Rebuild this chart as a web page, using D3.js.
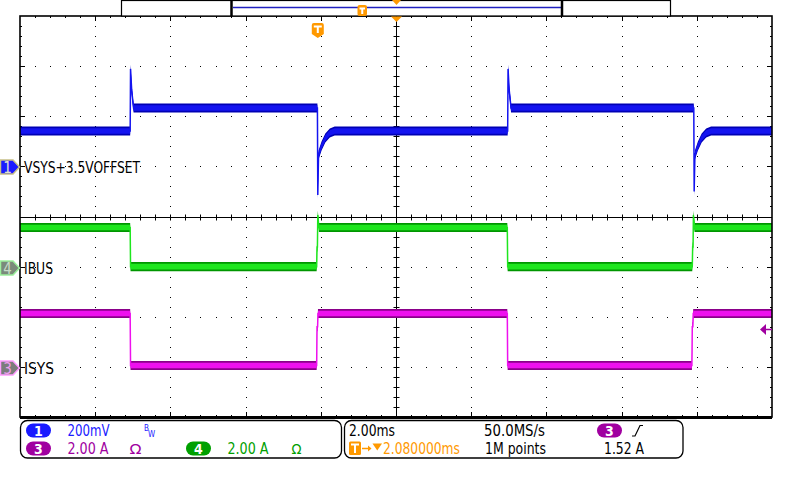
<!DOCTYPE html>
<html><head><meta charset="utf-8">
<script src="https://cdn.jsdelivr.net/npm/d3@7"></script>
<style>
html,body{margin:0;padding:0;background:#fff;}
svg{display:block;}
text{font-family:"DejaVu Sans Condensed","DejaVu Sans",sans-serif;}
</style></head><body>
<svg id="c" width="800" height="480"></svg>
<script>
// ================= DATA =================
// time axis (ms, relative to trigger point), 10 div x 2.00 ms
const timeDomainMs = [-7.92, 12.08];
const divX = 10, divY = 8, minorPerDiv = 5;

// CH1 VSYS (V)
const vsysTime = [-7.92, -4.99, -4.98, -4.95, -4.90, -0.01, 0.00, 0.02, 0.10, 0.20, 0.32, 0.45,
                  5.05, 5.06, 5.09, 5.14, 10.00, 10.01, 10.03, 10.11, 10.21, 10.33, 10.46, 12.08];
const vsysVolt = [3.641, 3.641, 3.889, 3.805, 3.733, 3.733, 3.386, 3.545, 3.581, 3.613, 3.633, 3.641,
                  3.641, 3.889, 3.805, 3.733, 3.733, 3.400, 3.545, 3.581, 3.613, 3.633, 3.641, 3.641];
// CH4 IBUS (A)
const ibusTime = [-7.92, -4.99, -4.98, -0.03, -0.02, -0.01, 0.00, 0.03,
                  5.04, 5.05, 9.96, 9.97, 9.98, 9.99, 10.02, 12.08];
const ibusAmp  = [1.56, 1.56, 0.00, 0.00, 0.78, 0.78, 2.06, 1.56,
                  1.56, 0.00, 0.00, 0.78, 0.78, 2.06, 1.56, 1.56];
// CH3 ISYS (A)
const isysTime = [-7.92, -4.99, -4.98, -0.03, -0.02, -0.005, 0.005,
                  5.04, 5.05, 9.95, 9.96, 9.975, 9.985, 12.08];
const isysAmp  = [2.13, 2.13, 0.055, 0.055, 1.60, 1.60, 2.13,
                  2.13, 0.055, 0.055, 1.60, 1.60, 2.13, 2.13];

// channel settings: volts(amps)/div, offset, position (div), noise band half-width
const chNames   = ["VSYS+3.5VOFFSET", "IBUS", "ISYS"];
const chIds     = ["1", "4", "3"];
const chPerDiv  = [0.2, 2.0, 2.0];
const chOffset  = [3.5, 0.0, 0.0];
const chPosDiv  = [1.0, -1.0, -3.0];
const chRipple  = [0.018, 0.18, 0.18];
const trigLevelA = 1.52;

// readout texts
const scaleLabels = ["200mV", "2.00 A", "2.00 A"];
const timebase = "2.00ms", sampleRate = "50.0MS/s", trigDelay = "2.080000ms";
const recordLen = "1M points", trigLevelText = "1.52 A", trigSource = "3";

// ================= LAYOUT / STYLE =================
const X0 = 20, X1 = 772, Y0 = 16, Y1 = 417;
const colDark  = ["#0000b4", "#009600", "#8a008a"];
const colLight = ["#1414f0", "#1ee61e", "#ee10ee"];
const colText  = ["#1a1aff", "#00a000", "#a000a0"];
const orange = "#ff9900";

const svg = d3.select("#c");
const x = d3.scaleLinear().domain(timeDomainMs).range([X0, X1]);
const yScales = chPerDiv.map((pd, i) => {
  const c = chOffset[i] - chPosDiv[i] * pd;
  return d3.scaleLinear().domain([c - 4 * pd, c + 4 * pd]).range([Y1, Y0]);
});

// ---------- grid ----------
const g = svg.append("g");
const dx = (X1 - X0) / divX, dy = (Y1 - Y0) / divY;
const mx = dx / minorPerDiv, my = dy / minorPerDiv;
let dotPath = "";
function dot(px, py) { dotPath += `M${Math.round(px)},${Math.round(py)}h1v1h-1z`; }
for (let i = 1; i < divX; i++) {
  if (i === divX / 2) continue;
  for (let j = 1; j < divY * minorPerDiv; j++) dot(X0 + i * dx, Y0 + j * my);
}
for (let k = 1; k < divY; k++) {
  if (k === divY / 2) continue;
  for (let m = 1; m < divX * minorPerDiv; m++) dot(X0 + m * mx, Y0 + k * dy);
}
g.append("path").attr("d", dotPath).attr("fill", "#000").attr("shape-rendering", "crispEdges");

// border ticks + centre cross ticks
let tkPath = "";
function seg(a, b, c, d) { tkPath += `M${a},${b}L${c},${d}`; }
for (let m = 1; m < divX * minorPerDiv; m++) {
  const xx = Math.round(X0 + m * mx) + 0.5, major = m % minorPerDiv === 0;
  seg(xx, Y0, xx, Y0 + (major ? 5 : 2));
  seg(xx, Y1, xx, Y1 - (major ? 5 : 2));
}
for (let j = 1; j < divY * minorPerDiv; j++) {
  const yy = Math.round(Y0 + j * my) + 0.5, major = j % minorPerDiv === 0;
  seg(X0, yy, X0 + (major ? 5 : 2), yy);
  seg(X1, yy, X1 - (major ? 5 : 2), yy);
}
const cx = Math.round(X0 + dx * divX / 2) + 0.5, cy = Math.round(Y0 + dy * divY / 2) + 0.5;
for (let m = 1; m < divX * minorPerDiv; m++) {
  const xx = Math.round(X0 + m * mx) + 0.5;
  seg(xx, cy - 3, xx, cy + 3);
}
for (let j = 1; j < divY * minorPerDiv; j++) {
  const yy = Math.round(Y0 + j * my) + 0.5;
  seg(cx - 3, yy, cx + 3, yy);
}
seg(X0, cy, X1, cy);
seg(cx, Y0, cx, Y1);
g.append("path").attr("d", tkPath).attr("stroke", "#000").attr("stroke-width", 1).attr("fill", "none");

// ---------- traces ----------
const series = [
  vsysTime.map((t, i) => [t, vsysVolt[i]]),
  ibusTime.map((t, i) => [t, ibusAmp[i]]),
  isysTime.map((t, i) => [t, isysAmp[i]])
];
series.forEach((pts, c) => {
  const ys = yScales[c], r = chRipple[c];
  const outer = d3.area().x(d => x(d[0])).y0(d => ys(d[1] - r)).y1(d => ys(d[1] + r));
  const inner = d3.area().x(d => x(d[0])).y0(d => ys(d[1] - r * 0.62)).y1(d => ys(d[1] + r * 0.62));
  const line = d3.line().x(d => x(d[0])).y(d => ys(d[1]));
  svg.append("path").attr("d", outer(pts)).attr("fill", colDark[c]);
  svg.append("path").attr("d", inner(pts)).attr("fill", colLight[c]);
  svg.append("path").attr("d", line(pts)).attr("fill", "none")
    .attr("stroke", colLight[c]).attr("stroke-width", 1.5);
});

// ---------- frame ----------
svg.append("rect").attr("x", X0).attr("y", Y0).attr("width", X1 - X0).attr("height", Y1 - Y0)
  .attr("fill", "none").attr("stroke", "#000").attr("stroke-width", 1.6);
svg.append("line").attr("x1", X0).attr("x2", X1).attr("y1", Y1 + 0.5).attr("y2", Y1 + 0.5)
  .attr("stroke", "#000").attr("stroke-width", 3);

// ---------- channel markers ----------
const mkFill = ["#1a1aff", "#7a8a7a", "#7c7c7c"];
const mkStroke = ["#c8c088", "#9cf09c", "#ff9cff"];
const mkText = ["#e0e0d0", "#c8dcc8", "#f0a0f0"];
chIds.forEach((id, c) => {
  const my0 = Math.round(yScales[c](chOffset[c])) + 1;
  svg.append("path").attr("d", `M0.5,${my0 - 7}H13L19.5,${my0}L13,${my0 + 7}H0.5Z`)
    .attr("fill", mkFill[c]).attr("stroke", mkStroke[c]).attr("stroke-width", 1.5);
  svg.append("text").attr("x", 7.5).attr("y", my0 + 5.5).attr("text-anchor", "middle")
    .attr("font-size", 15).attr("fill", mkText[c]).text(id);
  const tw = [116, 29, 30][c];
  svg.append("text").attr("x", 24).attr("y", my0 + 5.5).attr("font-size", 15.5).attr("fill", "#000")
    .attr("textLength", tw).attr("lengthAdjust", "spacingAndGlyphs").text(chNames[c]);
});

// trigger level arrow (CH3)
const ty = Math.round(yScales[2](trigLevelA)) + 0.5;
svg.append("path").attr("d", `M760,${ty}L766,${ty - 5.5}V${ty + 5.5}Z`).attr("fill", colText[2]);
svg.append("line").attr("x1", 765).attr("x2", X1).attr("y1", ty).attr("y2", ty).attr("stroke", colText[2]).attr("stroke-width", 1.5);

// ---------- top record bar ----------
svg.append("rect").attr("x", 121.5).attr("y", 0.5).attr("width", 549).attr("height", 15.5)
  .attr("fill", "#fff").attr("stroke", "#000").attr("stroke-width", 1.2);
svg.append("line").attr("x1", 233).attr("x2", 561).attr("y1", 7.5).attr("y2", 7.5).attr("stroke", "#2020c0").attr("stroke-width", 1.3);
[231.5, 562].forEach(xx => svg.append("line").attr("x1", xx).attr("x2", xx).attr("y1", 0).attr("y2", 16)
  .attr("stroke", "#000").attr("stroke-width", 2.5));

function tIcon(xl, yt, w, h, big) {
  const p = big ? `M${xl},${yt + 2}Q${xl},${yt} ${xl + 2},${yt}H${xl + w - 2}Q${xl + w},${yt} ${xl + w},${yt + 2}V${yt + h - 4}L${xl + w / 2},${yt + h}L${xl},${yt + h - 4}Z`
                : `M${xl},${yt + 2}Q${xl},${yt} ${xl + 2},${yt}H${xl + w - 2}Q${xl + w},${yt} ${xl + w},${yt + 2}V${yt + h - 2}Q${xl + w},${yt + h} ${xl + w - 2},${yt + h}H${xl + 2}Q${xl},${yt + h} ${xl},${yt + h - 2}Z`;
  svg.append("path").attr("d", p).attr("fill", orange);
  const cxm = xl + w / 2;
  svg.append("path").attr("d", `M${xl + 2},${yt + 3.5}H${xl + w - 2}M${cxm},${yt + 3.5}V${yt + h - (big ? 5 : 2)}`)
    .attr("stroke", "#fff").attr("stroke-width", 2).attr("fill", "none");
}
tIcon(357.5, 5, 9.5, 11, false);
tIcon(x(0) - 6, 23, 12, 15, true);
svg.append("path").attr("d", `M${cx - 4.5},0H${cx + 4.5}L${cx},5Z`).attr("fill", orange);
svg.append("path").attr("d", `M${cx - 5.5},16.5H${cx + 5.5}L${cx},22Z`).attr("fill", orange);

// ---------- readout panels ----------
function rr(xl, yt, w, h) {
  svg.append("rect").attr("x", xl).attr("y", yt).attr("width", w).attr("height", h).attr("rx", 7)
    .attr("fill", "#fff").attr("stroke", "#000").attr("stroke-width", 1.3);
}
rr(20.5, 420.5, 321, 37.5);
rr(344.5, 420.5, 338.5, 37.5);

function pill(xl, yt, col, label) {
  svg.append("rect").attr("x", xl).attr("y", yt).attr("width", 25).attr("height", 14).attr("rx", 7).attr("fill", col);
  svg.append("text").attr("x", xl + 12.5).attr("y", yt + 12).attr("text-anchor", "middle")
    .attr("font-size", 14).attr("font-weight", "bold").attr("fill", "#fff").text(label);
}
function txt(xl, yb, s, col, w, fs) {
  const t = svg.append("text").attr("x", xl).attr("y", yb).attr("font-size", fs || 15.5).attr("fill", col).text(s);
  if (w) t.attr("textLength", w).attr("lengthAdjust", "spacingAndGlyphs");
  return t;
}
pill(26, 423.5, colText[0], chIds[0]);
pill(26, 441.5, colText[2], chIds[2]);
pill(186, 441.5, colText[1], chIds[1]);
txt(67.5, 436, scaleLabels[0], colText[0], 42);
txt(144, 431, "B", colText[0], null, 8);
txt(148, 436.5, "W", colText[0], null, 8);
txt(67.5, 453.5, scaleLabels[2], colText[2], 41);
txt(129.5, 453.5, "Ω", colText[2], 12, 14);
txt(227.5, 453.5, scaleLabels[1], colText[1], 41);
txt(291.5, 453.5, "Ω", colText[1], 10, 14);

txt(349, 436, timebase, "#000", 46);
txt(484, 436, sampleRate, "#000", 61);
pill(597, 423.5, colText[2], trigSource);
svg.append("path").attr("d", "M632,436H635L640,425.5H643").attr("stroke", "#000").attr("stroke-width", 1.2).attr("fill", "none");
txt(485, 453.5, recordLen, "#000", 61);
txt(604, 453.5, trigLevelText, "#000", 40);

// trigger delay row
svg.append("rect").attr("x", 349).attr("y", 441.5).attr("width", 12).attr("height", 13.5).attr("rx", 1.5).attr("fill", orange);
svg.append("path").attr("d", "M351,444.5H359M355,444.5V453").attr("stroke", "#fff").attr("stroke-width", 2);
svg.append("path").attr("d", "M362,448.5H369").attr("stroke", orange).attr("stroke-width", 1.5);
svg.append("path").attr("d", "M368,445.5L371.5,448.5L368,451.5Z").attr("fill", orange);
svg.append("path").attr("d", "M372.5,443.5H382L377.25,450.5Z").attr("fill", orange);
txt(383, 453.5, trigDelay, orange, 77);
</script>
</body></html>
